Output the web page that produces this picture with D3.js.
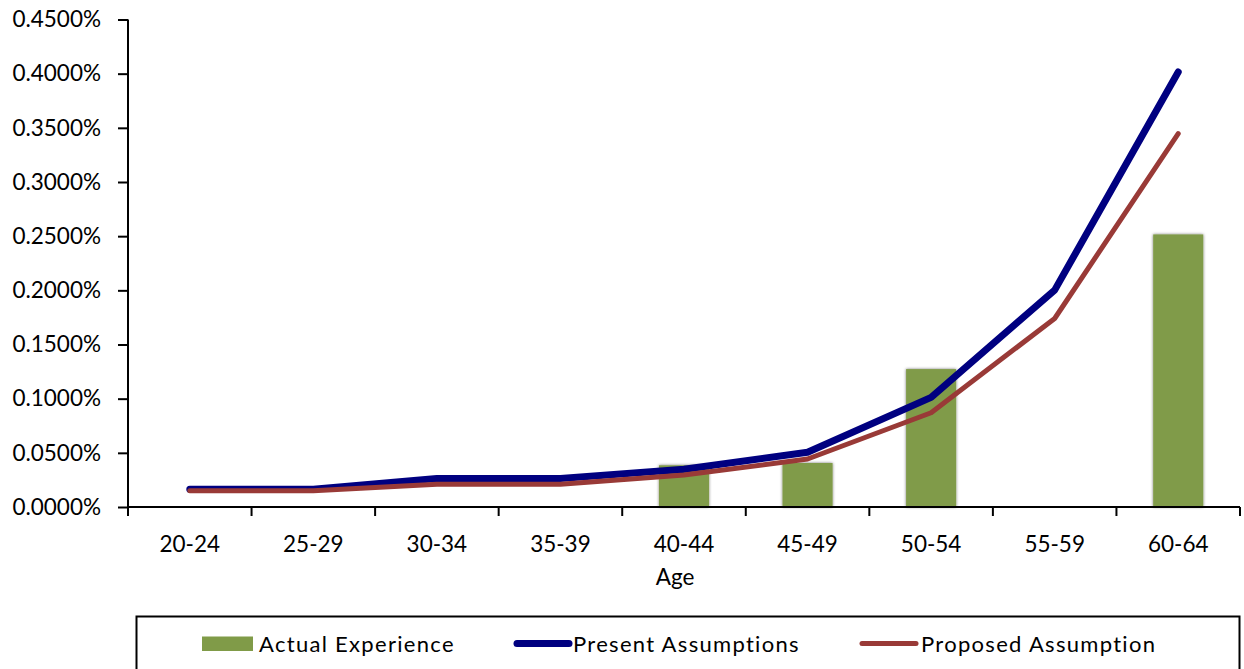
<!DOCTYPE html>
<html>
<head>
<meta charset="utf-8">
<script src="https://cdn.jsdelivr.net/npm/d3@7"></script>
<style>
  html, body { margin: 0; padding: 0; background: #fff; }
  svg { display: block; font-family: Lato, "Open Sans", sans-serif; }
</style>
</head>
<body>
<svg id="chart" width="1244" height="669"></svg>
<script>
// Age bands on the category axis
const ageBands = ["20-24", "25-29", "30-34", "35-39", "40-44", "45-49", "50-54", "55-59", "60-64"];
// Rates in percent
const actualExperience   = [null, null, null, null, 0.0385, 0.0406, 0.1273, null, 0.2516];
const presentAssumptions = [0.0165, 0.0165, 0.0263, 0.0263, 0.0348, 0.0505, 0.1012, 0.2002, 0.4016];
const proposedAssumption = [0.0150, 0.0150, 0.0210, 0.0210, 0.0295, 0.0443, 0.0870, 0.1740, 0.3447];
const yTicks = [0, 0.05, 0.10, 0.15, 0.20, 0.25, 0.30, 0.35, 0.40, 0.45];
const legendLabels = ["Actual Experience", "Present Assumptions", "Proposed Assumption"];

const svg = d3.select("#chart");
const plotLeft = 128, plotRight = 1240, plotTop = 19.5, plotBottom = 507;

const x = d3.scaleBand().domain(ageBands).range([plotLeft, plotRight]).padding(0);
const y = d3.scaleLinear().domain([0, 0.45]).range([plotBottom, plotTop]);

const defs = svg.append("defs");
const f = defs.append("filter").attr("id", "barShadow")
  .attr("x", "-20%").attr("y", "-10%").attr("width", "140%").attr("height", "120%");
f.append("feDropShadow").attr("dx", 0).attr("dy", 0).attr("stdDeviation", 1.8)
  .attr("flood-color", "#000").attr("flood-opacity", 0.55);

// Bars
const barW = x.bandwidth() * 0.405;
svg.append("g").selectAll("rect")
  .data(ageBands.map((a, i) => ({ a, v: actualExperience[i] })).filter(d => d.v != null))
  .join("rect")
  .attr("x", d => x(d.a) + x.bandwidth() / 2 - barW / 2)
  .attr("y", d => y(d.v))
  .attr("width", barW)
  .attr("height", d => y(0) - y(d.v))
  .attr("fill", "#809B48")
  .attr("filter", "url(#barShadow)");

// Axes
const fmt = d => d.toFixed(4) + "%";
const yAxis = svg.append("g").attr("transform", `translate(${plotLeft},0)`)
  .call(d3.axisLeft(y).tickValues(yTicks).tickFormat(fmt).tickSize(10).tickPadding(17));
const xAxis = svg.append("g").attr("transform", `translate(0,${plotBottom})`)
  .call(d3.axisBottom(x).tickSize(9).tickPadding(20));

[yAxis, xAxis].forEach(g => {
  g.selectAll("path.domain").attr("stroke", "#000").attr("stroke-width", 2);
  g.selectAll(".tick line").attr("stroke", "#000").attr("stroke-width", 2);
  g.selectAll("text").attr("fill", "#000").attr("font-size", 22.5).attr("font-family", "Lato, sans-serif");
});
// bottom axis ticks at band boundaries
xAxis.selectAll(".tick line").remove();
xAxis.selectAll(".boundary").data(ageBands.concat([null]))
  .join("line").attr("class", "boundary")
  .attr("x1", (d, i) => plotLeft + i * x.step()).attr("x2", (d, i) => plotLeft + i * x.step())
  .attr("y1", 0).attr("y2", 9).attr("stroke", "#000").attr("stroke-width", 2);
xAxis.select("path.domain").attr("d", `M${plotLeft},0H${plotRight}`);
yAxis.select("path.domain").attr("d", `M0,${plotTop}V${plotBottom}`);

svg.append("text").attr("x", 675).attr("y", 585).attr("text-anchor", "middle")
  .attr("font-size", 22.5).attr("fill", "#000").text("Age");

// Lines
const line = d3.line()
  .x((d, i) => x(ageBands[i]) + x.bandwidth() / 2)
  .y(d => y(d));
svg.append("path").datum(presentAssumptions).attr("d", line)
  .attr("fill", "none").attr("stroke", "#000080").attr("stroke-width", 7)
  .attr("stroke-linecap", "round").attr("stroke-linejoin", "round");
svg.append("path").datum(proposedAssumption).attr("d", line)
  .attr("fill", "none").attr("stroke", "#993A37").attr("stroke-width", 5)
  .attr("stroke-linecap", "round").attr("stroke-linejoin", "round");

// Legend
const lg = svg.append("g");
lg.append("rect").attr("x", 136.5).attr("y", 616.5).attr("width", 1103).attr("height", 80)
  .attr("fill", "#fff").attr("stroke", "#000").attr("stroke-width", 2);
lg.append("rect").attr("x", 202).attr("y", 636.5).attr("width", 51).attr("height", 14.5).attr("fill", "#809B48");
lg.append("line").attr("x1", 517).attr("x2", 569).attr("y1", 643.5).attr("y2", 643.5)
  .attr("stroke", "#000080").attr("stroke-width", 7).attr("stroke-linecap", "round");
lg.append("line").attr("x1", 862).attr("x2", 916).attr("y1", 643.5).attr("y2", 643.5)
  .attr("stroke", "#993A37").attr("stroke-width", 5).attr("stroke-linecap", "round");
const lx = [259, 573, 921];
lg.selectAll("text.lbl").data(legendLabels).join("text").attr("class", "lbl")
  .attr("x", (d, i) => lx[i]).attr("y", 651.5)
  .attr("font-size", 22).attr("letter-spacing", 1.3).attr("fill", "#000").text(d => d);
</script>
</body>
</html>
